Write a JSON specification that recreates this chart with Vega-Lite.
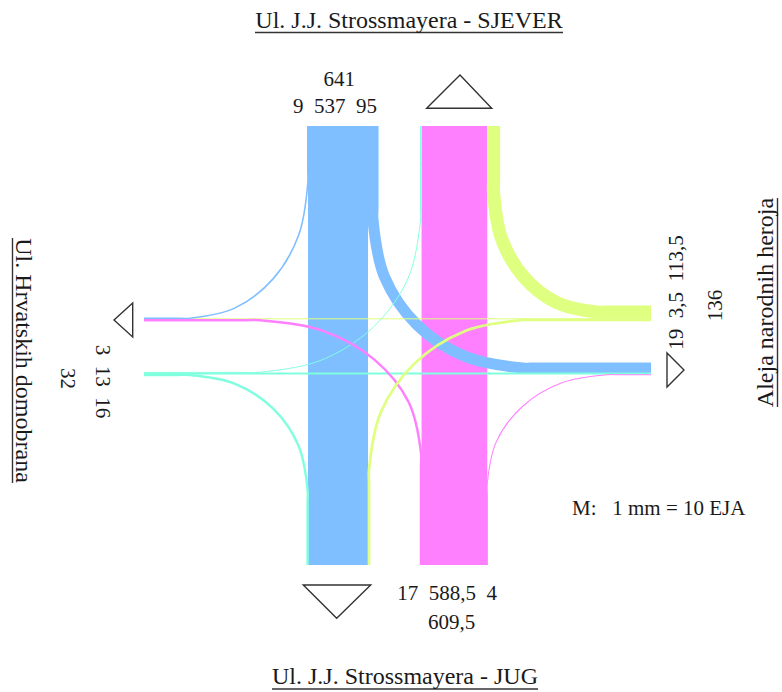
{
  "$schema": "https://vega.github.io/schema/vega-lite/v6.json",
  "width": 782,
  "height": 692,
  "padding": 0,
  "autosize": "none",
  "background": "white",
  "config": {"view": {"stroke": null}, "text": {"font": "Liberation Serif", "color": "#1a1a1a"}},
  "datasets": {
    "flows": [
      {"path": "N-S", "from": "N", "value": 537, "i": 0, "x": 338, "y": 126},
      {"path": "N-S", "from": "N", "value": 537, "i": 1, "x": 338, "y": 565},
      {"path": "S-N", "from": "S", "value": 588.5, "i": 0, "x": 454.4, "y": 565},
      {"path": "S-N", "from": "S", "value": 588.5, "i": 1, "x": 454.4, "y": 126},
      {"path": "E-W", "from": "E", "value": 3.5, "i": 0, "x": 651, "y": 318.8},
      {"path": "E-W", "from": "E", "value": 3.5, "i": 1, "x": 144, "y": 318.8},
      {"path": "W-E", "from": "W", "value": 13, "i": 0, "x": 144, "y": 373.5},
      {"path": "W-E", "from": "W", "value": 13, "i": 1, "x": 651, "y": 373.5},

      {"path": "N-W", "from": "N", "value": 9, "i": 0, "x": 307.8, "y": 126},
      {"path": "N-W", "from": "N", "value": 9, "i": 1, "x": 307.8, "y": 170},
      {"path": "N-W", "from": "N", "value": 9, "i": 2, "x": 307.8, "y": 183},
      {"path": "N-W", "from": "N", "value": 9, "i": 3, "x": 298.8, "y": 234.7},
      {"path": "N-W", "from": "N", "value": 9, "i": 4, "x": 273.3, "y": 278.6},
      {"path": "N-W", "from": "N", "value": 9, "i": 5, "x": 235.1, "y": 307.9},
      {"path": "N-W", "from": "N", "value": 9, "i": 6, "x": 190, "y": 318.2},
      {"path": "N-W", "from": "N", "value": 9, "i": 7, "x": 177, "y": 318.2},
      {"path": "N-W", "from": "N", "value": 9, "i": 8, "x": 144, "y": 318.2},

      {"path": "N-E", "from": "N", "value": 95, "i": 0, "x": 373, "y": 126},
      {"path": "N-E", "from": "N", "value": 95, "i": 1, "x": 373, "y": 207},
      {"path": "N-E", "from": "N", "value": 95, "i": 2, "x": 373, "y": 220},
      {"path": "N-E", "from": "N", "value": 95, "i": 3, "x": 384.4, "y": 276.6},
      {"path": "N-E", "from": "N", "value": 95, "i": 4, "x": 416.9, "y": 324.7},
      {"path": "N-E", "from": "N", "value": 95, "i": 5, "x": 465.6, "y": 356.7},
      {"path": "N-E", "from": "N", "value": 95, "i": 6, "x": 523, "y": 368},
      {"path": "N-E", "from": "N", "value": 95, "i": 7, "x": 536, "y": 368},
      {"path": "N-E", "from": "N", "value": 95, "i": 8, "x": 651, "y": 368},

      {"path": "W-S", "from": "W", "value": 16, "i": 0, "x": 144, "y": 375},
      {"path": "W-S", "from": "W", "value": 16, "i": 1, "x": 177, "y": 375},
      {"path": "W-S", "from": "W", "value": 16, "i": 2, "x": 190, "y": 375},
      {"path": "W-S", "from": "W", "value": 16, "i": 3, "x": 235.0, "y": 383.8},
      {"path": "W-S", "from": "W", "value": 16, "i": 4, "x": 273.2, "y": 408.7},
      {"path": "W-S", "from": "W", "value": 16, "i": 5, "x": 298.6, "y": 446.0},
      {"path": "W-S", "from": "W", "value": 16, "i": 6, "x": 307.6, "y": 490},
      {"path": "W-S", "from": "W", "value": 16, "i": 7, "x": 307.6, "y": 503},
      {"path": "W-S", "from": "W", "value": 16, "i": 8, "x": 307.6, "y": 565},

      {"path": "W-N", "from": "W", "value": 3, "i": 0, "x": 144, "y": 372.4},
      {"path": "W-N", "from": "W", "value": 3, "i": 1, "x": 244, "y": 372.4},
      {"path": "W-N", "from": "W", "value": 3, "i": 2, "x": 257, "y": 372.4},
      {"path": "W-N", "from": "W", "value": 3, "i": 3, "x": 319.6, "y": 360.8},
      {"path": "W-N", "from": "W", "value": 3, "i": 4, "x": 372.6, "y": 327.8},
      {"path": "W-N", "from": "W", "value": 3, "i": 5, "x": 408.1, "y": 278.3},
      {"path": "W-N", "from": "W", "value": 3, "i": 6, "x": 420.5, "y": 220},
      {"path": "W-N", "from": "W", "value": 3, "i": 7, "x": 420.5, "y": 207},
      {"path": "W-N", "from": "W", "value": 3, "i": 8, "x": 420.5, "y": 126},

      {"path": "S-W", "from": "S", "value": 17, "i": 0, "x": 421, "y": 565},
      {"path": "S-W", "from": "S", "value": 17, "i": 1, "x": 421, "y": 466},
      {"path": "S-W", "from": "S", "value": 17, "i": 2, "x": 421, "y": 453},
      {"path": "S-W", "from": "S", "value": 17, "i": 3, "x": 408.7, "y": 402.2},
      {"path": "S-W", "from": "S", "value": 17, "i": 4, "x": 373.8, "y": 359.1},
      {"path": "S-W", "from": "S", "value": 17, "i": 5, "x": 321.6, "y": 330.3},
      {"path": "S-W", "from": "S", "value": 17, "i": 6, "x": 260, "y": 320.2},
      {"path": "S-W", "from": "S", "value": 17, "i": 7, "x": 247, "y": 320.2},
      {"path": "S-W", "from": "S", "value": 17, "i": 8, "x": 144, "y": 320.2},

      {"path": "S-E", "from": "S", "value": 4, "i": 0, "x": 487.3, "y": 565},
      {"path": "S-E", "from": "S", "value": 4, "i": 1, "x": 487.3, "y": 496},
      {"path": "S-E", "from": "S", "value": 4, "i": 2, "x": 487.3, "y": 483},
      {"path": "S-E", "from": "S", "value": 4, "i": 3, "x": 496.4, "y": 441.6},
      {"path": "S-E", "from": "S", "value": 4, "i": 4, "x": 522.4, "y": 406.5},
      {"path": "S-E", "from": "S", "value": 4, "i": 5, "x": 561.2, "y": 383.0},
      {"path": "S-E", "from": "S", "value": 4, "i": 6, "x": 607, "y": 374.8},
      {"path": "S-E", "from": "S", "value": 4, "i": 7, "x": 620, "y": 374.8},
      {"path": "S-E", "from": "S", "value": 4, "i": 8, "x": 651, "y": 374.8},

      {"path": "E-N", "from": "E", "value": 113.5, "i": 0, "x": 651, "y": 312},
      {"path": "E-N", "from": "E", "value": 113.5, "i": 1, "x": 610, "y": 312},
      {"path": "E-N", "from": "E", "value": 113.5, "i": 2, "x": 597, "y": 312},
      {"path": "E-N", "from": "E", "value": 113.5, "i": 3, "x": 557.4, "y": 302.9},
      {"path": "E-N", "from": "E", "value": 113.5, "i": 4, "x": 523.9, "y": 277.1},
      {"path": "E-N", "from": "E", "value": 113.5, "i": 5, "x": 501.5, "y": 238.5},
      {"path": "E-N", "from": "E", "value": 113.5, "i": 6, "x": 493.6, "y": 193},
      {"path": "E-N", "from": "E", "value": 113.5, "i": 7, "x": 493.6, "y": 180},
      {"path": "E-N", "from": "E", "value": 113.5, "i": 8, "x": 493.6, "y": 126},

      {"path": "E-S", "from": "E", "value": 19, "i": 0, "x": 651, "y": 320},
      {"path": "E-S", "from": "E", "value": 19, "i": 1, "x": 536, "y": 320},
      {"path": "E-S", "from": "E", "value": 19, "i": 2, "x": 523, "y": 320},
      {"path": "E-S", "from": "E", "value": 19, "i": 3, "x": 464.1, "y": 331.4},
      {"path": "E-S", "from": "E", "value": 19, "i": 4, "x": 414.1, "y": 363.9},
      {"path": "E-S", "from": "E", "value": 19, "i": 5, "x": 380.7, "y": 412.6},
      {"path": "E-S", "from": "E", "value": 19, "i": 6, "x": 369, "y": 470},
      {"path": "E-S", "from": "E", "value": 19, "i": 7, "x": 369, "y": 483},
      {"path": "E-S", "from": "E", "value": 19, "i": 8, "x": 369, "y": 565}
    ],
    "shapes": [
      {"shape": "tri-N", "i": 0, "x": 426.7, "y": 108.3},
      {"shape": "tri-N", "i": 1, "x": 460, "y": 75},
      {"shape": "tri-N", "i": 2, "x": 491.7, "y": 108.3},
      {"shape": "tri-N", "i": 3, "x": 426.7, "y": 108.3},
      {"shape": "tri-N", "i": 4, "x": 460, "y": 75},
      {"shape": "tri-S", "i": 0, "x": 303.3, "y": 585},
      {"shape": "tri-S", "i": 1, "x": 336.7, "y": 618.3},
      {"shape": "tri-S", "i": 2, "x": 370.7, "y": 585},
      {"shape": "tri-S", "i": 3, "x": 303.3, "y": 585},
      {"shape": "tri-S", "i": 4, "x": 336.7, "y": 618.3},
      {"shape": "tri-W", "i": 0, "x": 132.7, "y": 303},
      {"shape": "tri-W", "i": 1, "x": 114, "y": 320},
      {"shape": "tri-W", "i": 2, "x": 132.7, "y": 337},
      {"shape": "tri-W", "i": 3, "x": 132.7, "y": 303},
      {"shape": "tri-W", "i": 4, "x": 114, "y": 320},
      {"shape": "tri-E", "i": 0, "x": 667, "y": 353},
      {"shape": "tri-E", "i": 1, "x": 684, "y": 370},
      {"shape": "tri-E", "i": 2, "x": 667, "y": 387},
      {"shape": "tri-E", "i": 3, "x": 667, "y": 353},
      {"shape": "tri-E", "i": 4, "x": 684, "y": 370},
      {"shape": "ul-N", "i": 0, "x": 255, "y": 32.5},
      {"shape": "ul-N", "i": 1, "x": 563, "y": 32.5},
      {"shape": "ul-S", "i": 0, "x": 272, "y": 689},
      {"shape": "ul-S", "i": 1, "x": 538, "y": 689},
      {"shape": "ul-W", "i": 0, "x": 12.5, "y": 238},
      {"shape": "ul-W", "i": 1, "x": 12.5, "y": 483},
      {"shape": "ul-E", "i": 0, "x": 777.5, "y": 198},
      {"shape": "ul-E", "i": 1, "x": 777.5, "y": 407}
    ],
    "labels": [
      {"group": "title-h", "text": "Ul. J.J. Strossmayera - SJEVER", "x": 409, "y": 27.5},
      {"group": "title-h", "text": "Ul. J.J. Strossmayera - JUG", "x": 405, "y": 684},
      {"group": "title-w", "text": "Ul. Hrvatskih domobrana", "x": 16, "y": 360.5},
      {"group": "title-e", "text": "Aleja narodnih heroja", "x": 773, "y": 302.5},
      {"group": "num-h", "text": "641", "x": 339.3, "y": 85.7},
      {"group": "num-h", "text": "9\u00a0\u00a0537\u00a0\u00a095", "x": 335, "y": 112.7},
      {"group": "num-h", "text": "17\u00a0\u00a0588,5\u00a0\u00a04", "x": 447, "y": 600},
      {"group": "num-h", "text": "609,5", "x": 451.7, "y": 628.5},
      {"group": "num-w", "text": "3\u00a0\u00a013\u00a0\u00a016", "x": 95.5, "y": 381.5},
      {"group": "num-w", "text": "32", "x": 60.5, "y": 378.5},
      {"group": "num-e", "text": "19\u00a0\u00a03,5\u00a0\u00a0113,5", "x": 682.5, "y": 292.5},
      {"group": "num-e", "text": "136", "x": 722, "y": 305.5},
      {"group": "scale", "text": "M:\u00a0\u00a0\u00a01 mm = 10 EJA", "x": 572, "y": 515}
    ]
  },
  "encoding": {
    "x": {"field": "x", "type": "quantitative", "scale": {"domain": [0, 782], "nice": false, "zero": false}, "axis": null},
    "y": {"field": "y", "type": "quantitative", "scale": {"domain": [0, 692], "nice": false, "zero": false, "reverse": true}, "axis": null}
  },
  "layer": [
    {
      "data": {"name": "flows"},
      "transform": [{"filter": "datum.value >= 500"}],
      "mark": {"type": "line", "interpolate": "catmull-rom", "strokeCap": "butt"},
      "encoding": {
        "detail": {"field": "path"},
        "order": {"field": "i", "type": "quantitative"},
        "color": {"field": "from", "type": "nominal", "scale": {"domain": ["N", "S", "E", "W"], "range": ["#80BFFF", "#FF80FF", "#DFFF80", "#80FFDF"]}, "legend": null},
        "strokeWidth": {"field": "value", "type": "quantitative", "scale": {"domain": [0, 641], "range": [0.6, 71.5]}, "legend": null}
      }
    },
    {
      "data": {"name": "flows"},
      "transform": [{"filter": "datum.value >= 50 && datum.value < 500"}],
      "mark": {"type": "line", "interpolate": "catmull-rom", "strokeCap": "butt"},
      "encoding": {
        "detail": {"field": "path"},
        "order": {"field": "i", "type": "quantitative"},
        "color": {"field": "from", "type": "nominal", "scale": {"domain": ["N", "S", "E", "W"], "range": ["#80BFFF", "#FF80FF", "#DFFF80", "#80FFDF"]}, "legend": null},
        "strokeWidth": {"field": "value", "type": "quantitative", "scale": {"domain": [0, 641], "range": [0.6, 71.5]}, "legend": null}
      }
    },
    {
      "data": {"name": "flows"},
      "transform": [{"filter": "datum.value < 50"}],
      "mark": {"type": "line", "interpolate": "catmull-rom", "strokeCap": "butt"},
      "encoding": {
        "detail": {"field": "path"},
        "order": {"field": "i", "type": "quantitative"},
        "color": {"field": "from", "type": "nominal", "scale": {"domain": ["N", "S", "E", "W"], "range": ["#80BFFF", "#FF80FF", "#DFFF80", "#80FFDF"]}, "legend": null},
        "strokeWidth": {"field": "value", "type": "quantitative", "scale": {"domain": [0, 641], "range": [0.6, 71.5]}, "legend": null}
      }
    },
    {
      "data": {"name": "shapes"},
      "mark": {"type": "line", "color": "#333333", "strokeWidth": 1.4, "strokeJoin": "miter"},
      "encoding": {
        "detail": {"field": "shape"},
        "order": {"field": "i", "type": "quantitative"}
      }
    },
    {
      "data": {"name": "labels"},
      "transform": [{"filter": "datum.group == 'title-h'"}],
      "mark": {"type": "text", "fontSize": 24, "align": "center", "baseline": "alphabetic"},
      "encoding": {"text": {"field": "text"}}
    },
    {
      "data": {"name": "labels"},
      "transform": [{"filter": "datum.group == 'title-w'"}],
      "mark": {"type": "text", "fontSize": 24, "align": "center", "baseline": "alphabetic", "angle": 90},
      "encoding": {"text": {"field": "text"}}
    },
    {
      "data": {"name": "labels"},
      "transform": [{"filter": "datum.group == 'title-e'"}],
      "mark": {"type": "text", "fontSize": 24, "align": "center", "baseline": "alphabetic", "angle": 270},
      "encoding": {"text": {"field": "text"}}
    },
    {
      "data": {"name": "labels"},
      "transform": [{"filter": "datum.group == 'num-h'"}],
      "mark": {"type": "text", "fontSize": 21, "align": "center", "baseline": "alphabetic"},
      "encoding": {"text": {"field": "text"}}
    },
    {
      "data": {"name": "labels"},
      "transform": [{"filter": "datum.group == 'num-w'"}],
      "mark": {"type": "text", "fontSize": 21, "align": "center", "baseline": "alphabetic", "angle": 90},
      "encoding": {"text": {"field": "text"}}
    },
    {
      "data": {"name": "labels"},
      "transform": [{"filter": "datum.group == 'num-e'"}],
      "mark": {"type": "text", "fontSize": 21, "align": "center", "baseline": "alphabetic", "angle": 270},
      "encoding": {"text": {"field": "text"}}
    },
    {
      "data": {"name": "labels"},
      "transform": [{"filter": "datum.group == 'scale'"}],
      "mark": {"type": "text", "fontSize": 21, "align": "left", "baseline": "alphabetic"},
      "encoding": {"text": {"field": "text"}}
    }
  ]
}
